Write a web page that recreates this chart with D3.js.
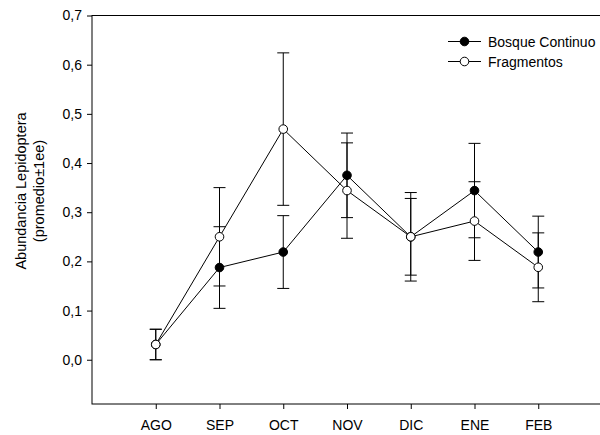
<!DOCTYPE html>
<meta charset="utf-8">
<style>
body { margin: 0; background: #fff; }
text { font-family: "Liberation Sans", Arial, sans-serif; fill: #000; }
</style>
<body>
<script src="https://d3js.org/d3.v7.min.js"></script>
<script>

let months = ["AGO", "SEP", "OCT", "NOV", "DIC", "ENE", "FEB"];
let bosque = [0.031, 0.1875, 0.219, 0.375, 0.25, 0.344, 0.219];
let bosqueErr = [0.031, 0.083, 0.074, 0.086, 0.09, 0.096, 0.073];
let fragmentos = [0.031, 0.25, 0.469, 0.344, 0.25, 0.282, 0.188];
let fragmentosErr = [0.031, 0.1, 0.155, 0.097, 0.078, 0.08, 0.07];
let yTicks = [0, 0.1, 0.2, 0.3, 0.4, 0.5, 0.6, 0.7];

let width = 600;
let height = 435;

let svg = d3.select("body").append("svg")
    .attr("width", width)
    .attr("height", height);

let x = d3.scaleLinear().domain([-1, 7]).range([92, 602]);
let y = d3.scaleLinear().domain([-0.09, 0.7]).range([404, 15.5]);

// frame (right edge falls outside the window)
svg.append("rect")
    .attr("x", x(-1)).attr("y", y(0.7))
    .attr("width", x(7) - x(-1)).attr("height", y(-0.09) - y(0.7))
    .attr("fill", "none").attr("stroke", "#000").attr("stroke-width", 1);

let yAxis = svg.append("g")
    .attr("transform", `translate(${x(-1)},0)`)
    .call(d3.axisLeft(y).tickValues(yTicks).tickSize(5).tickSizeOuter(0)
      .tickFormat(d => d3.format(".1f")(d).replace(".", ",")));
yAxis.select(".domain").remove();
yAxis.selectAll("text").attr("font-size", 14).attr("dx", -2);

let xAxis = svg.append("g")
    .attr("transform", `translate(0,${y(-0.09)})`)
    .call(d3.axisBottom(x).tickValues(d3.range(months.length)).tickSize(5).tickSizeOuter(0)
      .tickFormat(i => months[i]));
xAxis.select(".domain").remove();
xAxis.selectAll("text").attr("font-size", 14).attr("y", 26).attr("dy", 0);

svg.append("text")
    .attr("transform", `translate(26,191) rotate(-90)`)
    .attr("text-anchor", "middle")
    .attr("font-size", 14.5)
    .text("Abundancia Lepidoptera");
svg.append("text")
    .attr("transform", `translate(43.5,191) rotate(-90)`)
    .attr("text-anchor", "middle")
    .attr("font-size", 14.5)
    .text("(promedio±1ee)");

let series = [
  {name: "Bosque Continuo", vals: bosque, err: bosqueErr, fill: "#000"},
  {name: "Fragmentos", vals: fragmentos, err: fragmentosErr, fill: "#fff"}
];

let line = d3.line().x((d, i) => x(i)).y(d => y(d));

series.forEach(s => {
  svg.append("path")
      .attr("d", line(s.vals))
      .attr("fill", "none").attr("stroke", "#000").attr("stroke-width", 1);
});

series.forEach(s => {
  let g = svg.append("g").attr("stroke", "#000").attr("stroke-width", 1);
  s.vals.forEach((v, i) => {
    let lo = y(v - s.err[i]), hi = y(v + s.err[i]);
    g.append("line").attr("x1", x(i)).attr("x2", x(i)).attr("y1", lo).attr("y2", hi);
    g.append("line").attr("x1", x(i) - 6).attr("x2", x(i) + 6).attr("y1", lo).attr("y2", lo);
    g.append("line").attr("x1", x(i) - 6).attr("x2", x(i) + 6).attr("y1", hi).attr("y2", hi);
  });
});

series.forEach(s => {
  svg.selectAll(null)
    .data(s.vals)
    .enter().append("circle")
      .attr("cx", (d, i) => x(i))
      .attr("cy", d => y(d))
      .attr("r", 4.3)
      .attr("fill", s.fill)
      .attr("stroke", "#000").attr("stroke-width", 1);
});

// legend
let legend = svg.append("g");
series.forEach((s, i) => {
  let ly = 41.5 + i * 20;
  legend.append("line")
      .attr("x1", 448).attr("x2", 481).attr("y1", ly).attr("y2", ly)
      .attr("stroke", "#000").attr("stroke-width", 1);
  legend.append("circle")
      .attr("cx", 464.5).attr("cy", ly).attr("r", 4.3)
      .attr("fill", s.fill).attr("stroke", "#000").attr("stroke-width", 1);
  legend.append("text")
      .attr("x", 488).attr("y", ly + 5)
      .attr("font-size", 14)
      .text(s.name);
});

</script>
